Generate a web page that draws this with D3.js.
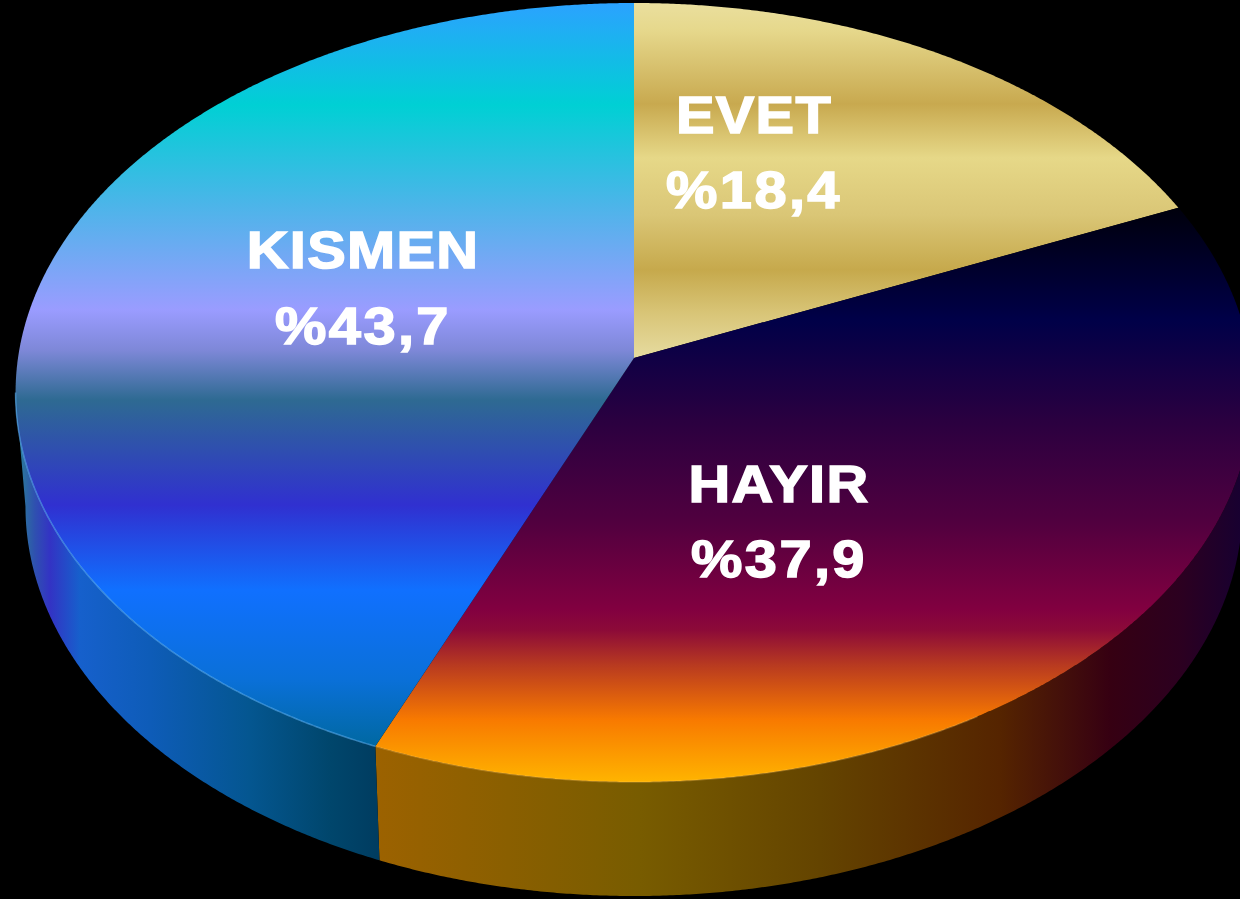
<!DOCTYPE html>
<html><head><meta charset="utf-8">
<script src="https://cdn.jsdelivr.net/npm/d3@7/dist/d3.min.js"></script>
<style>html,body{margin:0;padding:0;background:#000;overflow:hidden}svg{display:block}</style>
</head><body><svg id="c" width="1240" height="899"></svg>
<script>
const categories = ["EVET", "HAYIR", "KISMEN"];
const shares = [18.4, 37.9, 43.7];
const valueLabels = ["%18,4", "%37,9", "%43,7"];

// Top-face gradients: [y, colour]
const topEvet = [[3,"#eadf9e"],[30,"#e6d88c"],[104,"#c8a94f"],[158,"#e6d888"],[215,"#dac676"],[270,"#c6a94c"],[315,"#d9c679"],[358,"#e6dba0"]];
const topHayir = [[208,"#00000c"],[320,"#000048"],[420,"#2a0040"],[520,"#50003f"],[610,"#820040"],[630,"#8c0a38"],[665,"#b83a20"],[720,"#f87a00"],[782,"#ffb400"]];
const topKismen = [[3,"#2ba2ff"],[105,"#00d0d4"],[200,"#48b6e8"],[310,"#9a9cff"],[350,"#7e88d8"],[400,"#2e6a92"],[505,"#3030d0"],[590,"#1070ff"],[680,"#0a70d8"],[748,"#0068a0"]];
// Side-wall gradients: [x, colour]
const sideHayir = [[376,"#9c6200"],[640,"#785c00"],[820,"#644400"],[1000,"#552400"],[1110,"#360012"],[1180,"#2c0020"],[1240,"#180030"]];
const sideKismen = [[20,"#2b7a9a"],[35,"#2f50b0"],[50,"#3333c4"],[80,"#1660cc"],[150,"#0e5cb8"],[250,"#045690"],[330,"#00466c"],[380,"#003c60"]];

const layout = {
  apexX: 634, apexY: 358, radius: 616, tilt: 354.73, persp: -0.0886,
  depth: 114, shrink: 0.984
};
const labelAt = [
  {x: 754, y1: 133, y2: 208},
  {x: 779, y1: 502, y2: 577},
  {x: 363, y1: 268, y2: 344}
];

const svg = d3.select("#c");
const defs = svg.append("defs");
svg.append("rect").attr("width",1240).attr("height",899).attr("fill","#000");

function gradient(id, stops, horizontal){
  const lo = stops[0][0], hi = stops[stops.length-1][0];
  const g = defs.append("linearGradient").attr("id",id).attr("gradientUnits","userSpaceOnUse")
    .attr("x1",horizontal?lo:0).attr("x2",horizontal?hi:0)
    .attr("y1",horizontal?0:lo).attr("y2",horizontal?0:hi);
  const off = d3.scaleLinear().domain([lo,hi]).range([0,1]);
  stops.forEach(s=>g.append("stop").attr("offset",off(s[0])).attr("stop-color",s[1]));
}
gradient("t0",topEvet); gradient("t1",topHayir); gradient("t2",topKismen);
gradient("s1",sideHayir,true); gradient("s2",sideKismen,true);

// Perspective projection of the unit disc (a = angle clockwise from top)
function topPt(a, r=1){
  const u = r*Math.sin(a), v = -r*Math.cos(a), w = layout.persp*v+1;
  return [layout.apexX + layout.radius*u/w, (layout.tilt*v + layout.apexY)/w];
}
function bottomPt(a){
  const p = topPt(a);
  return [layout.apexX + (p[0]-layout.apexX)*layout.shrink, p[1]+layout.depth];
}
const line = d3.line();
function samples(a0,a1){ const n = Math.ceil(Math.abs(a1-a0)*200); return d3.range(n+1).map(i=>a0+(a1-a0)*i/n); }

const arcs = d3.pie().sort(null).value(d=>d)(shares);

// side walls: only the near part of each arc, cut at the silhouette extremes
const all = samples(0, 2*Math.PI);
const rightmost = d3.greatest(all, a=>topPt(a)[0]);
const leftmost = d3.least(all, a=>topPt(a)[0]);
arcs.forEach((d,i)=>{
  if(i===0) return;
  const as = samples(Math.max(d.startAngle,rightmost), Math.min(d.endAngle,leftmost));
  const pts = as.map(a=>topPt(a)).concat(as.slice().reverse().map(bottomPt));
  svg.append("path").attr("d",line(pts)+"Z").attr("fill",`url(#s${i})`);
});
// top faces
arcs.forEach((d,i)=>{
  const as = samples(d.startAngle, d.endAngle);
  const pts = [topPt(0,0)].concat(as.map(a=>topPt(a)));
  svg.append("path").attr("d",line(pts)+"Z").attr("fill",`url(#t${i})`);
});
// soft rim highlights on the near edge
const rims = [[1,"#ffc860",0.3,2.6,arcs[1].endAngle],[2,"#60b8ff",0.55,arcs[2].startAngle,leftmost]];
rims.forEach(([i,c,o,a0,a1])=>{
  const as = samples(a0,a1);
  svg.append("path").attr("d",line(as.map(a=>topPt(a)))).attr("fill","none")
    .attr("stroke",c).attr("stroke-opacity",o).attr("stroke-width",1.5);
});
// labels
const font = "'Liberation Sans', Arial, sans-serif";
categories.forEach((c,i)=>{
  [[c,labelAt[i].y1,1.2],[valueLabels[i],labelAt[i].y2,2.2]].forEach(([t,y,ls])=>{
    svg.append("text").text(t)
      .attr("transform",`translate(${labelAt[i].x},${y}) scale(1.1,1)`)
      .attr("text-anchor","middle").attr("font-family",font).attr("font-weight",700)
      .attr("letter-spacing",ls)
      .attr("font-size",52.5).attr("fill","#fff").attr("stroke","#fff").attr("stroke-width",1.5);
  });
});
</script></body></html>
